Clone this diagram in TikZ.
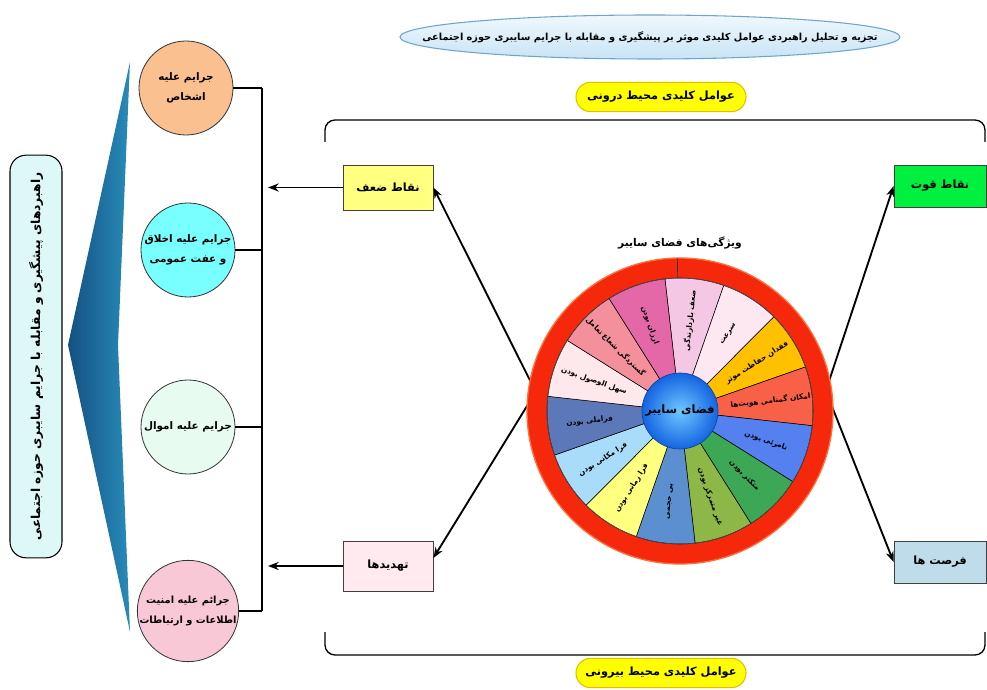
\documentclass[tikz,border=0pt]{standalone}
\usepackage{fontspec}
\usetikzlibrary{shapes.geometric,arrows.meta,calc}
\TeXXeTstate=1
\newfontfamily\farsi[Script=Arabic]{DejaVu Sans}
\newcommand\RT[1]{\beginR #1\endR}
\definecolor{titletop}{RGB}{240,248,253}
\definecolor{titlebot}{RGB}{200,228,245}
\definecolor{titleedge}{RGB}{110,165,205}
\definecolor{ylw}{RGB}{255,255,0}
\definecolor{ylwedge}{RGB}{225,190,0}
\definecolor{weakc}{RGB}{255,255,128}
\definecolor{threatc}{RGB}{255,234,240}
\definecolor{strongc}{RGB}{0,240,64}
\definecolor{oppc}{RGB}{190,220,234}
\definecolor{cA}{RGB}{250,192,143}
\definecolor{cB}{RGB}{120,255,255}
\definecolor{cC}{RGB}{232,251,240}
\definecolor{cD}{RGB}{249,200,214}
\definecolor{lrect}{RGB}{222,247,247}
\definecolor{chevdark}{RGB}{20,80,130}
\definecolor{chevlight}{RGB}{40,140,185}
\definecolor{ringred}{RGB}{245,40,12}
\definecolor{ringedge}{RGB}{255,110,60}
\definecolor{coreIn}{RGB}{110,200,255}
\definecolor{coreOut}{RGB}{20,100,225}
\definecolor{sgA}{RGB}{244,200,228}
\definecolor{sgB}{RGB}{253,232,242}
\definecolor{sgC}{RGB}{255,192,0}
\definecolor{sgD}{RGB}{248,96,72}
\definecolor{sgE}{RGB}{85,128,240}
\definecolor{sgF}{RGB}{60,168,85}
\definecolor{sgG}{RGB}{141,184,72}
\definecolor{sgH}{RGB}{91,143,208}
\definecolor{sgI}{RGB}{255,255,128}
\definecolor{sgJ}{RGB}{168,220,248}
\definecolor{sgK}{RGB}{92,120,184}
\definecolor{sgL}{RGB}{255,232,236}
\definecolor{sgM}{RGB}{244,144,156}
\definecolor{sgN}{RGB}{228,104,168}
\begin{document}
\begin{tikzpicture}[x=0.75pt,y=0.75pt,
  every node/.style={inner sep=0pt},
  titlefont/.style={font=\farsi\bfseries\fontsize{7.3pt}{9pt}\selectfont},
  boxfont/.style={font=\farsi\bfseries\fontsize{8.5pt}{10pt}\selectfont},
  circfont/.style={font=\farsi\bfseries\fontsize{7.8pt}{15pt}\selectfont, align=center},
  segfont/.style={font=\farsi\bfseries\fontsize{5.5pt}{7pt}\selectfont},
  vfont/.style={font=\farsi\bfseries\fontsize{9.2pt}{11pt}\selectfont},
  ylabel/.style={rounded corners=11pt, draw=ylwedge, line width=0.8pt, fill=ylw, minimum width=127.5pt, minimum height=22pt, font=\farsi\bfseries\fontsize{8.5pt}{10pt}\selectfont},
  swot/.style={draw=black!75, line width=0.6pt, minimum width=67.5pt, minimum height=33.75pt, boxfont},
  crime/.style={circle, draw=black!80, line width=0.6pt, minimum size=70.5pt, circfont},
  arr/.style={line width=1.4pt, -{Stealth[length=8pt,width=6pt]}},
  brk/.style={line width=2.2pt}
]
\useasboundingbox (0,0) rectangle (987,689);

% title
\draw[titleedge, line width=0.8pt, top color=titletop, bottom color=titlebot] (650,652) ellipse[x radius=250, y radius=22];
\node[titlefont] (title) at (650,652) {\RT{تجزیه و تحلیل راهبردی عوامل کلیدی موثر بر پیشگیری و مقابله با جرایم سایبری حوزه اجتماعی}};

% yellow labels
\node[ylabel] (inner) at (661,592) {\RT{عوامل کلیدی محیط درونی}};
\node[ylabel] (outer) at (661,16) {\RT{عوامل کلیدی محیط بیرونی}};

% frame brackets
\draw[line width=1pt] (325,547) -- (325,559) arc[start angle=180, end angle=90, radius=10] -- (975,569) arc[start angle=90, end angle=0, radius=10] -- (985,547);
\draw[line width=1pt] (325,57) -- (325,44) arc[start angle=180, end angle=270, radius=10] -- (975,34) arc[start angle=270, end angle=360, radius=10] -- (985,57);

% SWOT boxes
\node[swot, fill=weakc] (weak) at (388,501.5) {\RT{نقاط ضعف}};
\node[swot, fill=threatc, minimum height=37.5pt] (threat) at (388,123) {\RT{تهدیدها}};
\node[swot, fill=strongc, minimum width=69pt, minimum height=31.5pt] (strong) at (940,503) {\RT{نقاط قوت}};
\node[swot, fill=oppc, minimum width=69pt, minimum height=31.5pt] (opp) at (940,127) {\RT{فرصت ها}};

% wheel
\coordinate (W) at (680,278);
\coordinate (wl1) at ($(W)+(170:150)$);
\coordinate (wl2) at ($(W)+(176:150)$);
\coordinate (wr1) at ($(W)+(10:150)$);
\coordinate (wr2) at ($(W)+(4:150)$);
\draw[arr] (wl1) -- (weak.east);
\draw[arr] (wl2) -- ($(threat.east)+(0,8)$);
\draw[arr] (wr1) -- (strong.west);
\draw[arr] (wr2) -- (opp.west);

\node[circle, fill=ringred, draw=ringedge, line width=1pt, minimum size=229.5pt] (wheel) at (W) {};
\foreach \col/\txt [count=\k] in {sgA/{ضعف بازدارندگی}, sgB/{سرعت}, sgC/{فقدان حفاظت موثر}, sgD/{امکان گمنامی هویت‌ها}, sgE/{نامرئی بودن}, sgF/{متکثر بودن}, sgG/{غیر متمرکز بودن}, sgH/{بی حجمی}, sgI/{فرا زمانی بودن}, sgJ/{فرا مکانی بودن}, sgK/{فراملی بودن}, sgL/{سهل الوصول بودن}, sgM/{گستردگی شعاع تعامل}, sgN/{ارزان بودن}} {
  \pgfmathsetmacro\sa{96.5-25.7143*(\k-1)}
  \pgfmathsetmacro\ea{96.5-25.7143*\k}
  \pgfmathsetmacro\ca{96.5-25.7143*(\k-0.5)}
  \pgfmathsetmacro\rot{\ca<-90 ? \ca+180 : \ca}
  \filldraw[fill=\col, draw=black, line width=0.4pt] (W) -- ([shift={(\sa:133)}]W) arc[start angle=\sa, end angle=\ea, radius=133] -- cycle;
  \node[segfont, rotate=\rot] (s\k) at ([shift={(\ca:91)}]W) {\RT{\txt}};
}
\draw[black!70, line width=0.5pt] (W) circle[radius=133];
\draw[black!80, line width=0.5pt] ([shift={(91:133)}]W) -- ([shift={(91:153)}]W);
\node[circle, draw=coreOut!70!black, line width=0.5pt, inner color=coreIn, outer color=coreOut, minimum size=57pt, font=\farsi\bfseries\fontsize{8.6pt}{10pt}\selectfont] (core) at (W) {\RT{فضای سایبر}};
\node[font=\farsi\bfseries\fontsize{8pt}{9pt}\selectfont] (wtitle) at (680,446) {\RT{ویژگی‌های فضای سایبر}};

% crime circles
\node[crime, fill=cA] (k1) at (186,601) {\RT{جرایم علیه}\\\RT{اشخاص}};
\node[crime, fill=cB] (k2) at (188,439) {\RT{جرایم علیه اخلاق}\\\RT{و عفت عمومی}};
\node[crime, fill=cC] (k3) at (188,262) {\RT{جرایم علیه اموال}};
\node[crime, fill=cD, font=\farsi\bfseries\fontsize{7.4pt}{15pt}\selectfont] (k4) at (188,78) {\RT{جرائم علیه امنیت}\\\RT{اطلاعات و ارتباطات}};

\coordinate (bx) at (262,0);
\coordinate (ax) at (268,0);
\draw[brk] (k1.east -| bx) -- (k4.east -| bx);
\foreach \n in {k1,k2,k3,k4} \draw[brk] (\n.east) -- (\n.east -| bx);
\draw[arr] (weak.west) -- (weak.west -| ax);
\draw[arr] (threat.west) -- (threat.west -| ax);

% chevron
\shade[left color=chevdark, right color=chevlight] (130,627) -- (68,344) -- (130,57) -- (118,344) -- cycle;

% strategy box
\node[draw=black, line width=0.8pt, rounded corners=12pt, fill=lrect, rotate=90, minimum width=302pt, minimum height=39pt, vfont] (strat) at (36,332.5) {\RT{راهبردهای پیشگیری و مقابله با جرایم سایبری حوزه اجتماعی}};
\end{tikzpicture}
\end{document}
